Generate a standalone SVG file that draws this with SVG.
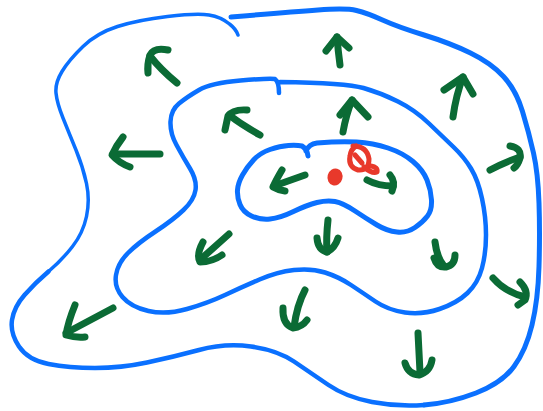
<svg xmlns="http://www.w3.org/2000/svg" width="543" height="411" viewBox="0 0 543 411">
  <style>
    .contour { fill: none; stroke: #0a70ff; stroke-linecap: round; stroke-linejoin: round; }
    .arrow { fill: none; stroke: #0b6b35; stroke-width: 7; stroke-linecap: round; stroke-linejoin: round; }
    .mark { fill: none; stroke: #e8392b; stroke-width: 5; stroke-linecap: round; stroke-linejoin: round; }
  </style>
  <rect width="543" height="411" fill="#ffffff"/>

  <!-- outer level line, drawn in three strokes so the weight changes along it -->
  <g id="outer-contour">
    <path class="contour" stroke-width="5" d="M231,17 Q290,12 318,10 Q346,8 356.5,10.5 Q367,13 382.5,20 Q398,27 424,35 Q450,43 470.5,53 Q491,63 503.5,76.5 Q516,90 522.5,111.5 Q529,133 533.5,153 Q538,173 539,203 Q540,233 539,266.5 Q538,300 532,325 Q526,350 514,366.5 Q502,383 476,393 Q450,403 424,405"/>
    <path class="contour" stroke-width="4.5" d="M424,405 Q398,407 372,402 Q346,397 328.5,385 Q311,373 294,361.5 Q277,350 251,346.5 Q225,343 199,350 Q173,357 147,362.5 Q121,368 95,368 Q69,368 48.5,364 Q28,360 19,346.5 Q10,333 12,320 Q14,307 24.5,295 Q35,283 48.5,271.5"/>
    <path class="contour" stroke-width="3.5" d="M48.5,271.5 Q62,260 72.5,246.5 Q83,233 86.5,216.5 Q90,200 86.5,183.5 Q83,167 76,150 Q69,133 63,118 Q57,103 56,93 Q55,83 62,71.5 Q69,60 83,46.5 Q97,33 117.5,26.5 Q138,20 167.5,16.5 Q197,13 209,15 Q221,17 229.5,24 Q236,29 238,35"/>
  </g>

  <!-- middle level line -->
  <g id="middle-contour">
    <path class="contour" stroke-width="4.5" d="M280,82 Q346,83 363.5,88 Q381,93 398,101.5 Q415,110 429,123.5 Q443,137 453.5,147 Q464,157 471,168.5 Q478,180 482,198.5 Q486,217 486,235 Q486,253 482,268 Q478,283 467.5,293 Q457,303 439.5,309 Q422,315 405,312.5 Q388,310 375.5,301.5 Q363,293 351,285 Q339,277 325,272.5 Q311,268 294,270 Q277,272 259.5,279.5 Q242,287 225,295 Q208,303 187,309 Q166,315 148.5,311 Q131,307 122.5,297 Q114,287 116,275 Q118,263 128,253 Q138,243 155.5,231.5 Q173,220 183.5,210 Q194,200 195.5,190 Q197,180 190,168.5 Q183,157 176.5,145 Q170,133 170.5,121.5 Q171,110 179,103.5 Q187,97 199,90 Q211,83 240.5,80.5 Q270,78 275,79 Q279,82 279,93"/>
  </g>

  <!-- inner level line -->
  <g id="inner-contour">
    <path class="contour" stroke-width="5" d="M306,151 Q309,144 317,143 Q340,141 356.5,142 Q373,143 388,148 Q403,153 413,161.5 Q423,170 427,180 Q431,190 431.5,200 Q432,210 427.5,216 Q423,222 415,227.5 Q407,233 397,232 Q387,231 377,225 Q367,219 355,211 Q343,203 335,201.5 Q327,200 317,202.5 Q307,205 293.5,211.5 Q280,218 270,219 Q260,220 251.5,216 Q243,212 240,204.5 Q237,197 237.5,190 Q238,183 242.5,175 Q247,167 253.5,160 Q260,153 270,149.5 Q280,146 288.5,145.5 Q297,145 302,146 Q307,149 308,156"/>
  </g>

  <!-- centre point and marker -->
  <g id="centre">
    <ellipse cx="335" cy="177" rx="7.5" ry="8.5" fill="#e8392b" transform="rotate(15 335 177)"/>
    <path class="mark" d="M353,146 Q367,146 369,159 Q369,171 358,170 Q348,167 350,156 Q351,149 356,146"/>
    <path class="mark" d="M355,155 L362,163"/>
    <path class="mark" d="M364,167 Q372,174 377,172 Q378,167 371,166"/>
  </g>

  <!-- outward arrows -->
  <g id="arrows">
    <g id="arrow-a"><path class="arrow" d="M177,83 Q161,70 150,56"/><path class="arrow" d="M168,50 Q154,47 150,55 Q147,64 148,73"/></g>
    <g id="arrow-b"><path class="arrow" d="M260,135 Q242,125 229,115"/><path class="arrow" d="M247,110 Q233,109 228,116 L225,130"/></g>
    <g id="arrow-c"><path class="arrow" d="M160,154 L113,154"/><path class="arrow" d="M123,137 Q116,146 112,155 Q119,163 130,167"/></g>
    <g id="arrow-d"><path class="arrow" d="M340,65 Q338,50 337,37"/><path class="arrow" d="M326,51 L337,37 L349,48"/></g>
    <g id="arrow-e"><path class="arrow" d="M343,132 Q346,115 352,100"/><path class="arrow" d="M340,115 L352,100 L368,117"/></g>
    <g id="arrow-f"><path class="arrow" d="M453,117 Q456,95 463,77"/><path class="arrow" d="M444,90 L463,77 L473,94"/></g>
    <g id="arrow-g"><path class="arrow" d="M229,234 L201,259"/><path class="arrow" d="M203,242 Q196,255 200,262 Q212,262 222,255"/></g>
    <g id="arrow-h"><path class="arrow" d="M328,220 Q326,238 327,252"/><path class="arrow" d="M317,238 Q318,250 327,252 Q335,248 338,238"/></g>
    <g id="arrow-i"><path class="arrow" d="M305,290 Q297,305 294,327"/><path class="arrow" d="M283,308 Q282,324 293,328 Q302,327 307,320"/></g>
    <g id="arrow-j"><path class="arrow" d="M435,242 Q437,258 444,266"/><path class="arrow" d="M434,258 Q437,268 446,267 Q455,265 455,255"/></g>
    <g id="arrow-k"><path class="arrow" d="M493,278 Q505,292 525,297"/><path class="arrow" d="M520,282 Q529,291 525,300 L518,305"/></g>
    <g id="arrow-l"><path class="arrow" d="M418,333 L420,372"/><path class="arrow" d="M405,363 Q408,374 419,375 Q430,372 432,360"/></g>
    <g id="arrow-m"><path class="arrow" d="M113,308 L66,333"/><path class="arrow" d="M75,305 Q68,322 66,335 Q76,338 85,337"/></g>
    <g id="arrow-n"><path class="arrow" d="M490,170 Q505,162 520,157"/><path class="arrow" d="M510,146 Q522,148 520,158 Q518,165 514,168"/></g>
    <g id="arrow-o"><path class="arrow" d="M305,175 L274,186"/><path class="arrow" d="M282,170 Q276,180 273,187 Q278,190 285,191"/></g>
    <g id="arrow-p"><path class="arrow" d="M367,180 Q378,186 393,186"/><path class="arrow" d="M390,175 Q396,182 392,191"/></g>
  </g>
</svg>
